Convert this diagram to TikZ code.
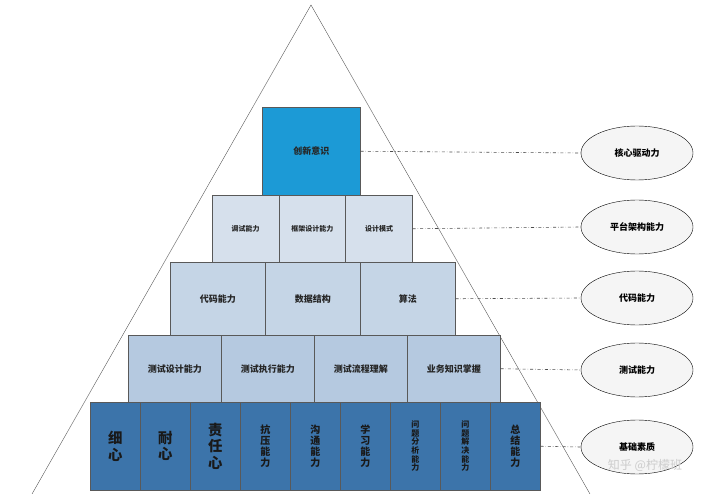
\documentclass[tikz,border=0pt]{standalone}
\usepackage{fontspec}
\setmainfont{Noto Sans CJK SC}
\usetikzlibrary{shapes.geometric}
\definecolor{topc}{HTML}{1C9AD6}
\definecolor{r2c}{HTML}{D6E0EC}
\definecolor{r3c}{HTML}{C5D5E6}
\definecolor{r4c}{HTML}{B5C9E0}
\definecolor{botc}{HTML}{3C74AA}
\begin{document}
\begin{tikzpicture}[x=1pt,y=-1pt,
  cell/.style={draw=gray!70!black,line width=0.5pt,minimum height=#1,inner sep=0pt,anchor=north west,text=black!85},
  lv/.style={ellipse,draw=black,fill=gray!8,minimum width=112pt,minimum height=54pt,font=\small\bfseries},
  dl/.style={dash dot,gray!60!black,line width=0.6pt}]
\useasboundingbox (0,0) rectangle (720,494);
\draw[gray!70!black] (32,494) -- (311,5) -- (590,494);
% top
\node[cell=88pt,fill=topc,minimum width=98pt,font=\small\bfseries] (t) at (262,107) {创新意识};
% row2
\foreach \l [count=\i] in {调试能力,框架设计能力,设计模式}
  \node[cell=67pt,fill=r2c,minimum width=66.7pt,font=\scriptsize\bfseries] (b\i) at ({212+66.7*(\i-1)},195) {\l};
% row3
\foreach \l [count=\i] in {代码能力,数据结构,算法}
  \node[cell=73pt,fill=r3c,minimum width=95pt,font=\small\bfseries] (c\i) at ({170+95*(\i-1)},262) {\l};
% row4
\foreach \l [count=\i] in {测试设计能力,测试执行能力,测试流程理解,业务知识掌握}
  \node[cell=67pt,fill=r4c,minimum width=93pt,font=\small\bfseries] (d\i) at ({128+93*(\i-1)},335) {\l};
% row5
\foreach \l/\f [count=\i] in {细\\心/\Large,耐\\心/\Large,责\\任\\心/\Large,抗\\压\\能\\力/\normalsize,沟\\通\\能\\力/\normalsize,学\\习\\能\\力/\normalsize,问\\题\\分\\析\\能\\力/\footnotesize,问\\题\\解\\决\\能\\力/\footnotesize,总\\结\\能\\力/\normalsize}
  \node[cell=88pt,fill=botc,minimum width=50pt,align=center,text=black!90,font=\f\bfseries\linespread{0.9}\selectfont] (e\i) at ({90+50*(\i-1)},402) {\l};
% ellipses
\node[lv] (k1) at (637,153) {核心驱动力};
\node[lv] (k2) at (637,227) {平台架构能力};
\node[lv] (k3) at (637,298) {代码能力};
\node[lv] (k4) at (637,370) {测试能力};
\node[lv] (k5) at (637,447) {基础素质};
\draw[dl] (t.east) -- (k1.west);
\draw[dl] (b3.east) -- (k2.west);
\draw[dl] (c3.east) -- (k3.west);
\draw[dl] (d4.east) -- (k4.west);
\draw[dl] (e9.east) -- (k5.west);
\node[text=gray!40,font=\large] (wm) at (645,465) {知乎 @柠檬班};
\end{tikzpicture}
\end{document}
